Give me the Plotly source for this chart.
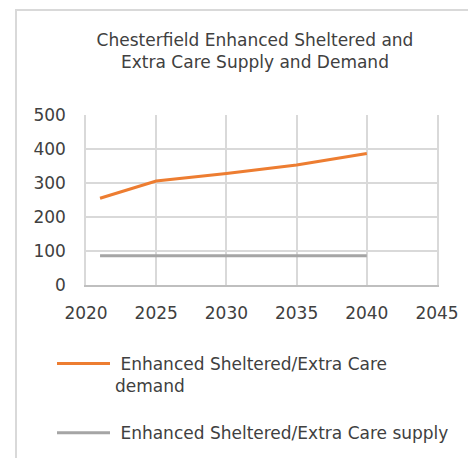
import plotly.graph_objects as go

years = [2021, 2025, 2030, 2035, 2040]
demand = [255, 306, 328, 353, 387]
supply = [86, 86, 86, 86, 86]
demand_name = " Enhanced Sheltered/Extra Care<br>demand"
supply_name = " Enhanced Sheltered/Extra Care supply"
title_text = "Chesterfield Enhanced Sheltered and<br>Extra Care Supply and Demand"

FONT = "DejaVu Sans"
OFF = 8  # page body margin
W, H = 476 - OFF, 458 - OFF
L, T = 86 - OFF, 115 - OFF
R = W - (437 - OFF)
B = H - (285 - OFF)
pw = W - L - R
ph = H - T - B

fig = go.Figure()
fig.add_trace(go.Scatter(x=years, y=demand, mode="lines", name=demand_name,
                         legendgroup="d",
                         line=dict(color="#ed7d31", width=3)))
fig.add_trace(go.Scatter(x=years, y=supply, mode="lines", name=supply_name,
                         legendgroup="s",
                         line=dict(color="#a5a5a5", width=3)))

def px_x(p):
    return (p - OFF - L) / pw

def px_y(p):
    return (H - B - (p - OFF)) / ph

fig.add_shape(type="rect", xref="paper", yref="paper",
              x0=px_x(16), x1=px_x(500), y0=px_y(480), y1=px_y(10),
              line=dict(color="#d9d9d9", width=2), fillcolor="rgba(0,0,0,0)", layer="below")

fig.update_layout(
    width=W, height=H,
    margin=dict(l=L, r=R, t=T, b=B, autoexpand=False),
    paper_bgcolor="white", plot_bgcolor="white",
    font=dict(family=FONT, color="#404040"),
    title=dict(text=title_text, x=(255 - OFF) / W, xanchor="center",
               y=1 - (46 - OFF) / H, yanchor="middle",
               font=dict(family=FONT, size=17, color="#404040")),
    xaxis=dict(range=[2020, 2045], tickmode="linear", tick0=2020, dtick=5,
               showgrid=True, gridcolor="#d9d9d9", gridwidth=1.5,
               showline=True, linecolor="#bfbfbf", linewidth=1.5, mirror=False,
               zeroline=False, ticks="", tickfont=dict(size=17, color="#404040"),
               ticklabelstandoff=12),
    yaxis=dict(range=[0, 500], tickmode="linear", tick0=0, dtick=100,
               showgrid=True, gridcolor="#d9d9d9", gridwidth=1.5,
               showline=True, linecolor="#d9d9d9", linewidth=1.5, mirror=True,
               zeroline=False, ticks="", tickfont=dict(size=17, color="#404040"),
               ticklabelstandoff=15),
    showlegend=True,
    legend=dict(x=px_x(52), xanchor="left", y=px_y(346), yanchor="top",
                font=dict(family=FONT, size=17, color="#404040"),
                tracegroupgap=22, itemwidth=53, valign="top",
                bgcolor="rgba(0,0,0,0)"),
)

fig.write_html("out.html")
